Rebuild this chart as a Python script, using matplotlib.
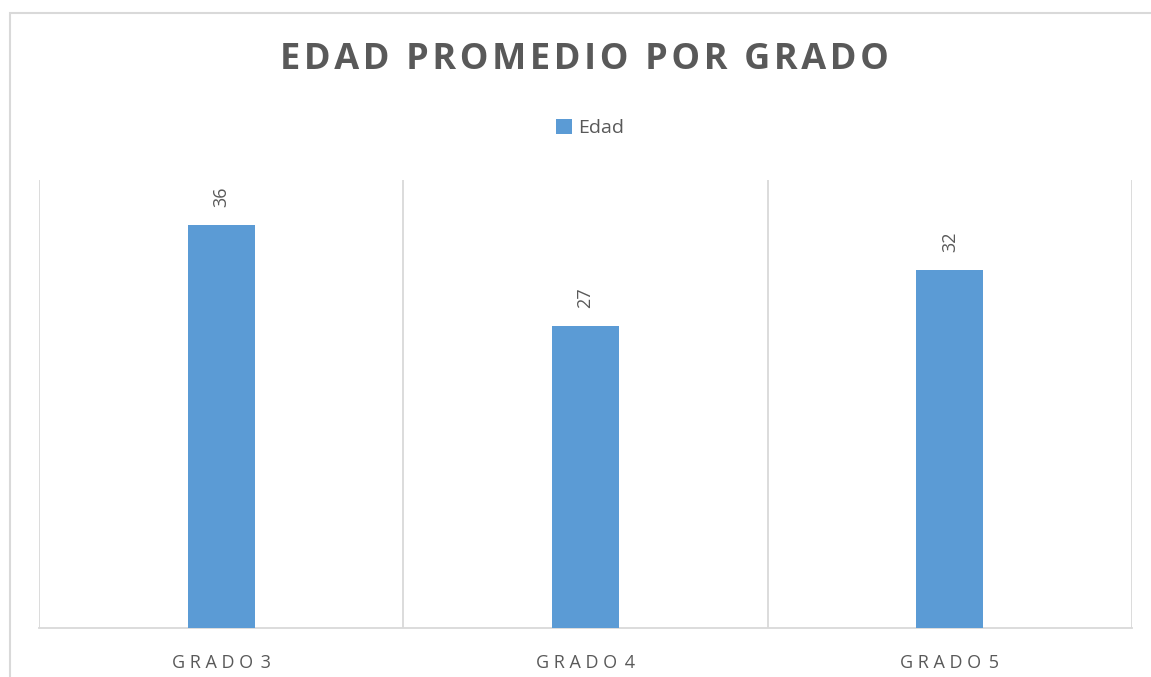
import matplotlib
matplotlib.use("Agg")
import matplotlib.pyplot as plt
from matplotlib.patches import Rectangle

categories = ["GRADO 3", "GRADO 4", "GRADO 5"]
values = [36, 27, 32]
series_name = "Edad"
title = "EDAD PROMEDIO POR GRADO"

BAR = "#5B9BD5"
TXT = "#595959"
GRID = "#D9D9D9"

def spaced(s, sep="\u200A"):
    return sep.join(s)

def tracked_label(s):
    words = s.split(" ")
    return " \u2009".join(" ".join(w) for w in words)

plt.rcParams['font.family'] = ['Open Sans', 'DejaVu Sans']

fig = plt.figure(figsize=(11.51, 6.77), dpi=100)
fig.patches.append(Rectangle((10/1151, -0.1), 1.2, (677-13)/677 + 0.1, transform=fig.transFigure,
                             fill=False, edgecolor=GRID, linewidth=1.5, zorder=0))

ax = fig.add_axes([39/1151, 1-628/677, (1132-39)/1151, (628-180)/677])
x = list(range(len(categories)))
bars = ax.bar(x, values, width=0.184, color=BAR, label=series_name, zorder=3)
ax.set_xlim(-0.5, len(categories)-0.5)
ax.set_ylim(0, 40)

for spine in ["left", "right", "top"]:
    ax.spines[spine].set_visible(False)
ax.spines["bottom"].set_color(GRID)
ax.spines["bottom"].set_linewidth(1.3)
ax.set_yticks([])
ax.set_xticks(x)
ax.set_xticklabels([tracked_label(c) for c in categories], fontsize=13, color=TXT)
ax.tick_params(axis="x", length=0, pad=19)
ax.set_xticks([i - 0.5 for i in range(len(categories)+1)], minor=True)
ax.tick_params(axis="x", which="minor", length=0)
ax.grid(True, which="minor", axis="x", color=GRID, linewidth=1.3, zorder=0)

for b, v in zip(bars, values):
    ax.annotate(str(v), (b.get_x() + b.get_width()/2, v), xytext=(0, 13), textcoords="offset points",
                rotation=90, ha="center", va="bottom", fontsize=13, color=TXT)

fig.text(584/1151, 1-60/677, spaced(title), ha="center", va="center", fontsize=26,
         fontweight="bold", color=TXT)

leg = fig.legend(handles=[bars], labels=[series_name], loc="center", bbox_to_anchor=(590/1151, 1-128/677),
                 frameon=False, fontsize=14, handlelength=0.8, handleheight=0.8, handletextpad=0.3,
                 labelcolor=TXT)

fig.savefig("out.png", dpi=100)
